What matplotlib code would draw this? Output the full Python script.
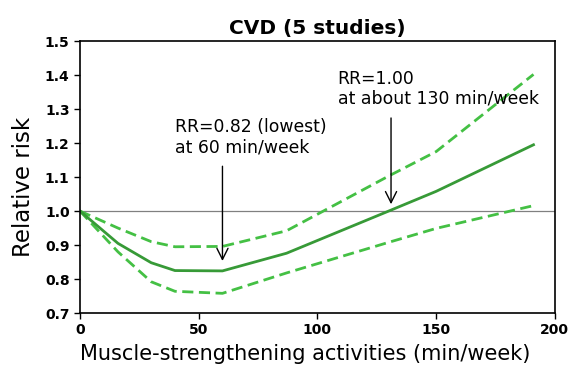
import matplotlib
matplotlib.use("Agg")
import matplotlib.pyplot as plt

minutes = [0, 16, 30, 40, 60, 87, 130, 150, 191]
rr = [1.0, 0.905, 0.848, 0.825, 0.824, 0.876, 1.0, 1.058, 1.195]
upper = [1.0, 0.95, 0.91, 0.895, 0.896, 0.942, 1.103, 1.175, 1.402]
lower = [1.0, 0.88, 0.792, 0.764, 0.758, 0.818, 0.908, 0.949, 1.016]

fig = plt.figure(figsize=(5.81, 3.67), dpi=100)
ax = fig.add_axes([0.1377, 0.147, 0.8173, 0.741])

ax.axhline(1.0, color="#808080", linewidth=0.9)
ax.plot(minutes, upper, color="#44c044", linestyle=(0, (4, 2)), linewidth=2)
ax.plot(minutes, lower, color="#44c044", linestyle=(0, (4, 2)), linewidth=2)
ax.plot(minutes, rr, color="#379a37", linewidth=2)

ax.set_xlim(0, 200)
ax.set_ylim(0.7, 1.5)
ax.set_xticks([0, 50, 100, 150, 200])
ax.set_yticks([0.7, 0.8, 0.9, 1.0, 1.1, 1.2, 1.3, 1.4, 1.5])
ax.set_yticklabels(["0.7", "0.8", "0.9", "1.0", "1.1", "1.2", "1.3", "1.4", "1.5"])
for lbl in ax.get_xticklabels() + ax.get_yticklabels():
    lbl.set_fontweight("bold")
    lbl.set_fontsize(10)
for s in ax.spines.values():
    s.set_linewidth(1.2)
ax.tick_params(length=4, width=1)

ax.set_title("CVD (5 studies)", fontsize=14.5, fontweight="bold", pad=5)
ax.set_ylabel("Relative risk", fontsize=16.5)
ax.yaxis.set_label_coords(-0.095, 0.465)
ax.set_xlabel("Muscle-strengthening activities (min/week)", fontsize=15)
ax.xaxis.set_label_coords(0.475, -0.112)

# arrows and notes
ax.annotate("", xy=(60, 0.845), xytext=(60, 1.14),
            arrowprops=dict(arrowstyle="->", color="black", lw=1, mutation_scale=20))
ax.text(40, 1.218, "RR=0.82 (lowest)\nat 60 min/week", fontsize=12.4, va="center", ha="left",
        linespacing=1.15)
ax.annotate("", xy=(131, 1.012), xytext=(131, 1.282),
            arrowprops=dict(arrowstyle="->", color="black", lw=1, mutation_scale=20))
ax.text(108.5, 1.36, "RR=1.00\nat about 130 min/week", fontsize=12.4, va="center", ha="left",
        linespacing=1.15)

fig.savefig("out.png", dpi=100)
